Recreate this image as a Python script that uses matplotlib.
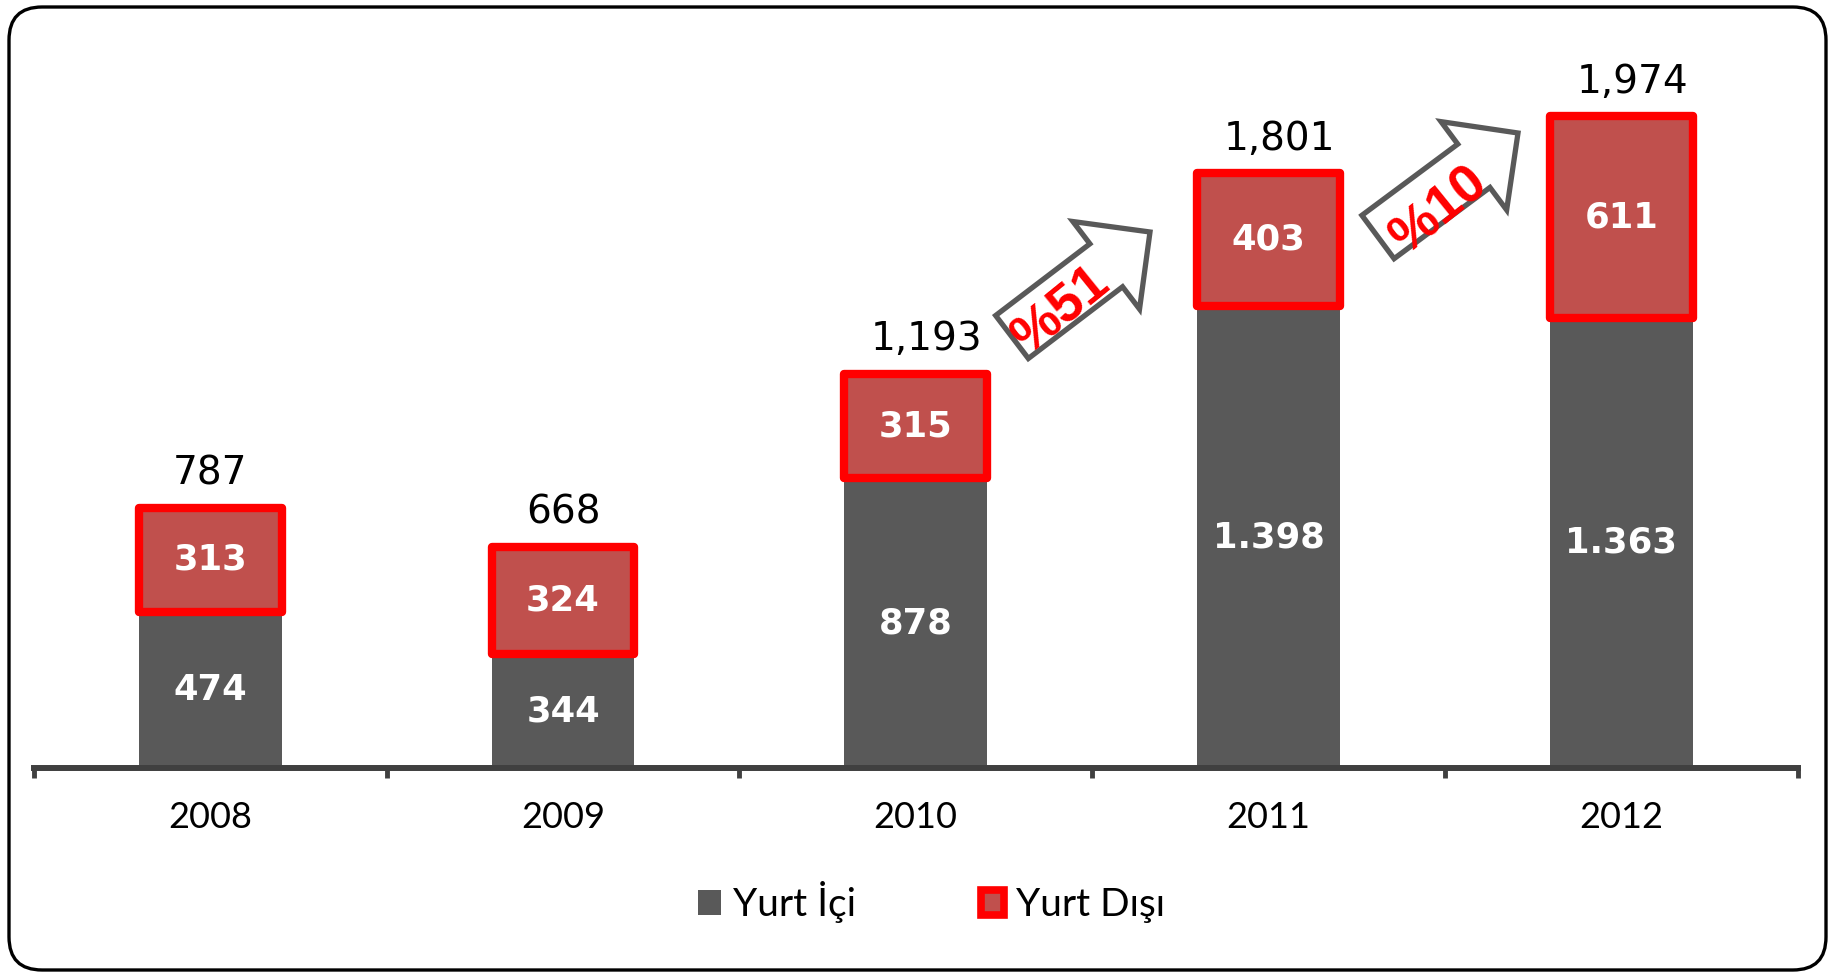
import numpy as np
import matplotlib
matplotlib.use("Agg")
import matplotlib.pyplot as plt
from matplotlib.patches import Patch, Polygon, FancyBboxPatch

# ── DATA ───────────────────────────────────────────────────
years = ["2008", "2009", "2010", "2011", "2012"]
yurt_ici = [474, 344, 878, 1398, 1363]
yurt_disi = [313, 324, 315, 403, 611]
ici_labels = ["474", "344", "878", "1.398", "1.363"]
disi_labels = ["313", "324", "315", "403", "611"]
total_labels = ["787", "668", "1,193", "1,801", "1,974"]
growth_labels = ["%51", "%10"]
# ───────────────────────────────────────────────────────────

GRAY = "#595959"
RED_FILL = "#C0504D"
RED_EDGE = "#FF0000"
W, H = 1837, 975

fig = plt.figure(figsize=(W / 100, H / 100), dpi=100)
ax = fig.add_axes([0.0185, 0.2123, 0.960, 0.745])

x = np.arange(len(years))
width = 0.405
totals = np.array(yurt_ici) + np.array(yurt_disi)

ax.bar(x, yurt_ici, width, color=GRAY, zorder=2)
ax.bar(x, yurt_disi, width, bottom=yurt_ici, color=RED_FILL,
       edgecolor=RED_EDGE, linewidth=6, joinstyle="round", zorder=3)

for i in range(len(years)):
    ax.text(x[i], yurt_ici[i] / 2, ici_labels[i], ha="center", va="center",
            color="white", fontsize=25.5, fontweight="bold", zorder=4)
    ax.text(x[i], yurt_ici[i] + yurt_disi[i] / 2, disi_labels[i], ha="center",
            va="center", color="white", fontsize=25.5, fontweight="bold", zorder=4)
    # las etiquetas con coma aparecen algo desplazadas a la derecha
    dx = 8 if "," in total_labels[i] else 0
    ax.annotate(total_labels[i], (x[i], totals[i]), xytext=(dx, 25),
                textcoords="offset points", ha="center", va="center",
                fontsize=28, color="black")

ax.set_xlim(-0.5, len(years) - 0.5)
ax.set_ylim(0, 2200)
for s in ["top", "left", "right"]:
    ax.spines[s].set_visible(False)
ax.spines["bottom"].set_color("#404040")
ax.spines["bottom"].set_linewidth(4.3)
ax.set_yticks([])
ax.set_xticks(x)
ax.set_xticklabels(years, fontsize=26, family="Lato")
ax.tick_params(axis="x", which="major", length=0, pad=24)
ax.set_xticks(np.arange(-0.5, len(years)), minor=True)
ax.tick_params(axis="x", which="minor", length=7, width=3.5, color="#404040")


def hollow_arrow(tail, tip, bw=54, hw=110, hl=55):
    """Polígono de flecha en píxeles (origen arriba-izquierda)."""
    tail = np.array(tail, float)
    tip = np.array(tip, float)
    u = (tip - tail) / np.linalg.norm(tip - tail)
    n = np.array([-u[1], u[0]])
    neck = tip - u * hl
    pts = [tail + n * bw / 2, neck + n * bw / 2, neck + n * hw / 2, tip,
           neck - n * hw / 2, neck - n * bw / 2, tail - n * bw / 2]
    pts = [(p[0] / W, 1 - p[1] / H) for p in pts]
    return Polygon(pts, closed=True, transform=fig.transFigure,
                   facecolor="white", edgecolor=GRAY, linewidth=3.8, zorder=5)


arrows = [((1012, 337), (1150, 232), (1062, 311)),
          ((1378, 237), (1518, 133), (1440, 211))]
for (tail, tip, tpos), lab in zip(arrows, growth_labels):
    fig.patches.append(hollow_arrow(tail, tip))
    fig.text(tpos[0] / W, 1 - tpos[1] / H, lab, color=RED_EDGE, fontsize=39,
             fontweight="bold", family="Liberation Sans", rotation=39,
             rotation_mode="anchor", ha="center", va="center", zorder=6)

handles = [Patch(facecolor=GRAY, edgecolor=GRAY, linewidth=0),
           Patch(facecolor=RED_FILL, edgecolor=RED_EDGE, linewidth=5.5)]
fig.legend(handles, ["Yurt İçi", "Yurt Dışı"], loc="center",
           bbox_to_anchor=(0.507, 0.075), ncol=2, frameon=False,
           prop={"family": "Lato", "size": 28}, handlelength=0.6,
           handleheight=0.6, handletextpad=0.3, columnspacing=3.2)

frame = FancyBboxPatch((9 / W, 5 / H), (W - 20) / W, (H - 12) / H,
                       boxstyle="round,pad=0,rounding_size=0.018",
                       transform=fig.transFigure, facecolor="none",
                       edgecolor="black", linewidth=2.4, mutation_aspect=W / H)
fig.patches.append(frame)

fig.savefig("out.png", dpi=100)
